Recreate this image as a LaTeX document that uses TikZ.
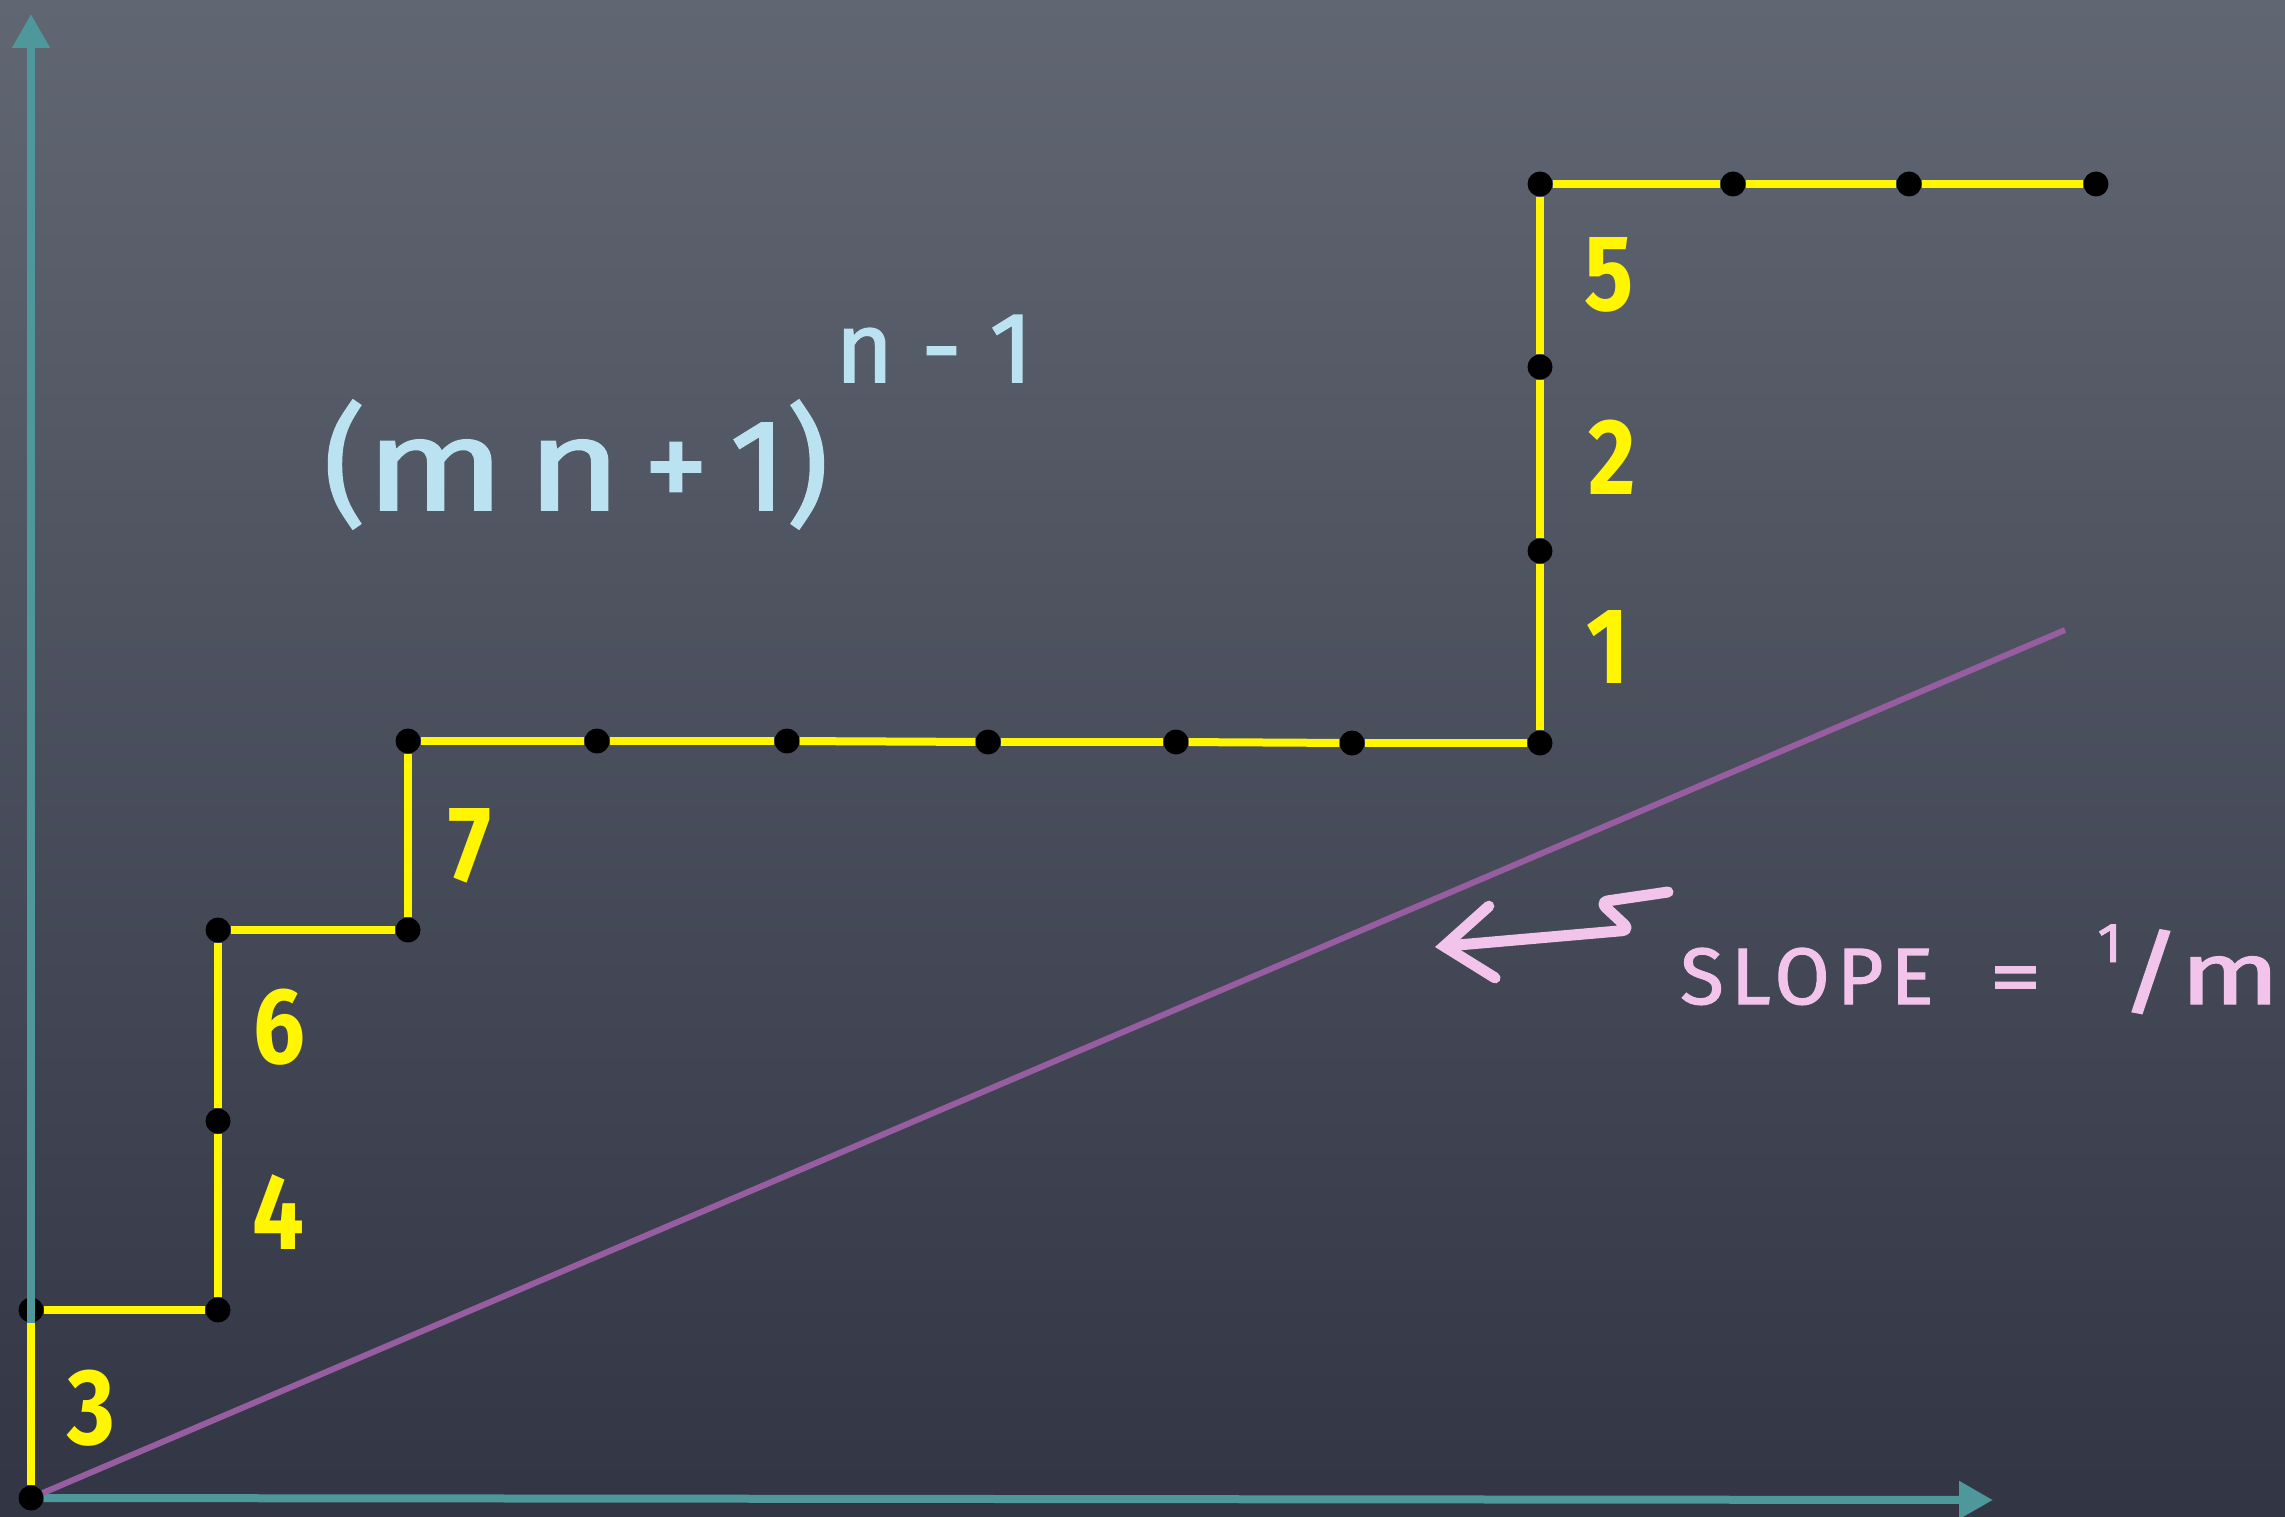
\documentclass[tikz,border=0pt]{standalone}
\usepackage{fontspec}
\setmainfont{Fira Sans}
\newfontfamily\digitfont[FakeStretch=0.85]{Fira Sans}
\newfontfamily\chalkfont[FakeBold=1.5]{Fira Sans}
\newfontfamily\notefont[FakeBold=1.5, LetterSpace=9]{Fira Sans}
\usepackage{xcolor}
\usetikzlibrary{positioning, arrows.meta}

\definecolor{boardtop}{RGB}{97,102,115}
\definecolor{boardmid}{RGB}{84,89,102}
\definecolor{boardbot}{RGB}{50,54,68}
\definecolor{chalkyellow}{RGB}{255,246,0}
\definecolor{axisteal}{RGB}{78,152,156}
\definecolor{slopepurple}{RGB}{150,94,160}
\definecolor{chalkblue}{RGB}{186,226,240}
\definecolor{chalkpink}{RGB}{242,196,236}

\begin{document}
\begin{tikzpicture}[x=1pt, y=-1pt,
    dot/.style={circle, fill=black, inner sep=0pt, minimum size=25pt},
    stair/.style={draw=chalkyellow, line width=8pt},
    axis/.style={draw=axisteal, line width=8pt, -{Triangle[length=34pt, width=36pt, fill=axisteal]}},
    slopeline/.style={draw=slopepurple, line width=6pt},
    count/.style={text=chalkyellow, inner sep=0pt, font=\digitfont\bfseries\fontsize{108}{108}\selectfont},
    formula/.style={text=chalkblue, inner sep=0pt, font=\chalkfont\fontsize{130}{130}\selectfont},
    power/.style={text=chalkblue, inner sep=0pt, font=\chalkfont\fontsize{100}{100}\selectfont},
    note/.style={text=chalkpink, inner sep=0pt, font=\notefont\fontsize{80}{80}\selectfont},
    squiggle/.style={draw=chalkpink, line width=11pt, line cap=round, line join=round,
        rounded corners=8pt, -{Straight Barb[length=48pt, width=72pt, line cap=round]}}]
    \useasboundingbox (0,0) rectangle (2285,1517);
    \shade[top color=boardtop, middle color=boardmid, bottom color=boardbot]
        (0,0) rectangle (2285,1517);

    \node[dot] (p0) at (31,1498) {};
    \node[dot] (p1) at (31,1310) {};
    \node[dot] (p2) at (218,1310) {};
    \node[dot] (p3) at (218,1121) {};
    \node[dot] (p4) at (218,930) {};
    \node[dot] (p5) at (408,930) {};
    \node[dot] (p6) at (408,741) {};
    \node[dot] (p7) at (597,741) {};
    \node[dot] (p8) at (787,741) {};
    \node[dot] (p9) at (988,742) {};
    \node[dot] (p10) at (1176,742) {};
    \node[dot] (p11) at (1352,743) {};
    \node[dot] (p12) at (1540,743) {};
    \node[dot] (p13) at (1540,551) {};
    \node[dot] (p14) at (1540,367) {};
    \node[dot] (p15) at (1540,184) {};
    \node[dot] (p16) at (1733,184) {};
    \node[dot] (p17) at (1909,184) {};
    \node[dot] (p18) at (2096,184) {};

    \coordinate (ytip) at (31,14);
    \coordinate (xtip) at (1993,1500);
    \coordinate (slopeend) at (2065,630);

    \path[axis]
        (p0) edge (ytip)
        (p0) edge (xtip);
    \path[slopeline] (p0) edge (slopeend);

    \path[stair]
        (p0) edge (p1)
        (p1) edge (p2)
        (p2) edge (p3)
        (p3) edge (p4)
        (p4) edge (p5)
        (p5) edge (p6)
        (p6) edge (p7)
        (p7) edge (p8)
        (p8) edge (p9)
        (p9) edge (p10)
        (p10) edge (p11)
        (p11) edge (p12)
        (p12) edge (p13)
        (p13) edge (p14)
        (p14) edge (p15)
        (p15) edge (p16)
        (p16) edge (p17)
        (p17) edge (p18);

    \node[count] (c3) at (91,1408) {3};
    \node[count] (c4) at (278,1212) {4};
    \node[count] (c6) at (279,1027) {6};
    \node[count] (c7) at (470,846) {7};
    \node[count] (c1) at (1608,647) {1};
    \node[count] (c2) at (1612,457) {2};
    \node[count] (c5) at (1609,275) {5};

    \node[formula, anchor=base] (base) at (576,510)
        {(\scalebox{1.25}[1]{m}\,\scalebox{1.25}[1]{n}\,+\,1)};
    \node[power, anchor=base] (expo) at (934,382) {n\;-\;1};

    \node[note, anchor=base west] (slope) at (1680,1004)
        {SLOPE\hspace{56pt}\scalebox{1.3}[1]{=}\hspace{56pt}\raisebox{42pt}{\fontsize{56}{56}\selectfont 1}\kern-2pt\scalebox{1.5}[1.15]{/}\kern-2pt\scalebox{1.45}[1.1]{m}};

    \coordinate (sq0) at (1668,892);
    \coordinate (sq1) at (1600,902);
    \coordinate (sq2) at (1630,930);
    \coordinate (sqtip) at (1435,947);
    \draw[squiggle] (sq0) -- (sq1) -- (sq2) -- (sqtip);
\end{tikzpicture}
\end{document}
